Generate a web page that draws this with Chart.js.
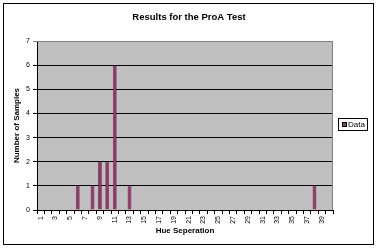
<!DOCTYPE html>
<html>
<head>
<meta charset="utf-8">
<script src="https://cdn.jsdelivr.net/npm/chart.js@4/dist/chart.umd.min.js"></script>
<style>
  html, body { margin: 0; padding: 0; background: #fff; }
  #wrap { width: 378px; height: 250px; }
</style>
</head>
<body>
<div id="wrap"><canvas id="c"></canvas></div>
<script>
// hue separation categories 1..40
const categories = [];
for (let i = 1; i <= 40; i++) categories.push(String(i));

// number of samples per hue separation
const sampleCounts = [
    0, 0, 0, 0, 0, 1, 0, 1, 2, 2,
    6, 0, 1, 0, 0, 0, 0, 0, 0, 0,
    0, 0, 0, 0, 0, 0, 0, 0, 0, 0,
    0, 0, 0, 0, 0, 0, 0, 1, 0, 0
];

const seriesName = 'Data';
const chartTitle = 'Results for the ProA Test';
const xTitle = 'Hue Seperation';
const yTitle = 'Number of Samples';

const barColor = '#993366';
const font = 'Arial, "Liberation Sans", sans-serif';

// excel-ish frame: grey plot area, borders, title over the whole canvas, boxed legend
const excelFrame = {
    id: 'excelFrame',
    beforeDraw: function (chart) {
        const ctx = chart.ctx;
        const a = chart.chartArea;
        ctx.save();
        ctx.fillStyle = '#fff';
        ctx.fillRect(0, 0, chart.width, chart.height);
        ctx.fillStyle = '#c0c0c0';
        ctx.fillRect(a.left, a.top, a.right - a.left, a.bottom - a.top);
        ctx.restore();
    },
    afterDraw: function (chart) {
        const ctx = chart.ctx;
        const a = chart.chartArea;
        ctx.save();
        ctx.strokeStyle = '#808080';
        ctx.lineWidth = 1;
        ctx.beginPath();
        ctx.moveTo(a.left, a.top + 0.5);
        ctx.lineTo(a.right - 0.5, a.top + 0.5);
        ctx.lineTo(a.right - 0.5, a.bottom);
        ctx.stroke();

        ctx.strokeStyle = '#000';
        ctx.strokeRect(3.5, 3.5, 370, 241);

        ctx.fillStyle = '#000';
        ctx.font = 'bold 9.5px ' + font;
        ctx.textAlign = 'center';
        ctx.textBaseline = 'middle';
        ctx.fillText(chartTitle, 189, 17);

        ctx.strokeRect(338.5, 118.5, 29, 12);
        ctx.fillStyle = barColor;
        ctx.fillRect(342, 122, 5, 5);
        ctx.strokeRect(342.5, 122.5, 4, 4);
        ctx.fillStyle = '#000';
        ctx.font = '8px ' + font;
        ctx.textAlign = 'left';
        ctx.fillText(seriesName, 348, 125);
        ctx.restore();
    }
};

new Chart(document.getElementById('c'), {
    type: 'bar',
    data: {
        labels: categories,
        datasets: [{
            label: seriesName,
            data: sampleCounts,
            backgroundColor: barColor,
            borderColor: '#000',
            borderWidth: 0.5,
            barPercentage: 0.5,
            categoryPercentage: 1
        }]
    },
    options: {
        responsive: true,
        maintainAspectRatio: false,
        animation: false,
        layout: {
            padding: { left: 8, right: 45, top: 41, bottom: 10 }
        },
        plugins: {
            legend: { display: false },
            tooltip: { enabled: false },
            title: { display: false }
        },
        scales: {
            x: {
                afterFit: function (axis) {
                    axis.height = 30;
                },
                grid: {
                    drawOnChartArea: false,
                    drawTicks: true,
                    tickLength: 4,
                    color: '#000'
                },
                border: { color: '#000' },
                ticks: {
                    autoSkip: false,
                    minRotation: 90,
                    maxRotation: 90,
                    padding: 2,
                    color: '#000',
                    font: { family: font, size: 7 },
                    callback: function (value, index) {
                        return index % 2 === 0 ? categories[index] : '';
                    }
                },
                title: {
                    display: true,
                    text: xTitle,
                    color: '#000',
                    font: { family: font, size: 8, weight: 'bold' },
                    padding: { top: 0, bottom: 4 }
                }
            },
            y: {
                min: 0,
                max: 7,
                afterFit: function (axis) {
                    axis.width = 29;
                },
                grid: {
                    tickLength: 4,
                    color: function (context) {
                        return context.tick && context.tick.value === 7 ? '#808080' : '#000';
                    }
                },
                border: { color: '#000' },
                ticks: {
                    stepSize: 1,
                    padding: 3,
                    color: '#000',
                    font: { family: font, size: 7 }
                },
                title: {
                    display: true,
                    text: yTitle,
                    color: '#000',
                    font: { family: font, size: 8, weight: 'bold' },
                    padding: { top: 4, bottom: 0 }
                }
            }
        }
    },
    plugins: [excelFrame]
});
</script>
</body>
</html>
